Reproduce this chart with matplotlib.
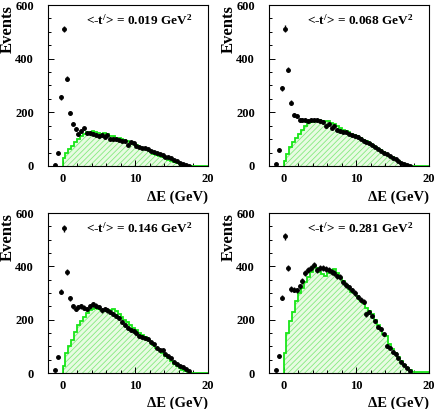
import numpy as np
import matplotlib
matplotlib.use("Agg")
import matplotlib.pyplot as plt
from matplotlib.ticker import MultipleLocator

plt.rcParams['font.family'] = ['Liberation Serif', 'DejaVu Serif']
plt.rcParams['font.weight'] = 'bold'
plt.rcParams['mathtext.fontset'] = 'custom'
plt.rcParams['mathtext.rm'] = 'Liberation Serif:bold'
plt.rcParams['mathtext.it'] = 'Liberation Serif:bold'
plt.rcParams['mathtext.bf'] = 'Liberation Serif:bold'
plt.rcParams['hatch.linewidth'] = 0.6

# ---- data ----
labels = ["<-t$^{/}$> = 0.019 GeV$^{2}$", "<-t$^{/}$> = 0.068 GeV$^{2}$",
          "<-t$^{/}$> = 0.146 GeV$^{2}$", "<-t$^{/}$> = 0.281 GeV$^{2}$"]

data_x = [-1.0, -0.6, -0.2, 0.2, 0.6, 1.0, 1.4, 1.8, 2.2, 2.6, 3.0, 3.4, 3.8, 4.2,
          4.6, 5.0, 5.4, 5.8, 6.2, 6.6, 7.0, 7.4, 7.8, 8.2, 8.6, 9.0, 9.4, 9.8,
          10.2, 10.6, 11.0, 11.4, 11.8, 12.2, 12.6, 13.0, 13.4, 13.8, 14.2, 14.6,
          15.0, 15.4, 15.8, 16.2, 16.6, 17.0, 17.4]

data1 = [5, 50, 256, 510, 325, 197, 158, 138, 118, 130, 140, 122, 122, 120,
         117, 112, 115, 108, 115, 102, 100, 100, 97, 95, 92, 80, 88, 85,
         75, 72, 68, 68, 62, 55, 52, 48, 45, 40, 35, 32, 28, 22, 18, 12, 8, 4, 1]
data2 = [8, 61, 290, 512, 359, 236, 190, 185, 172, 170, 170, 168, 170, 172,
         170, 168, 165, 150, 155, 140, 148, 135, 130, 128, 125, 120, 115, 110,
         108, 102, 95, 90, 85, 78, 70, 63, 57, 50, 44, 37, 31, 25, 19, 13, 8, 4, 1]
data3 = [10, 60, 305, 543, 380, 280, 250, 240, 248, 250, 245, 240, 250, 258,
         252, 248, 235, 240, 235, 228, 222, 215, 205, 190, 180, 170, 160, 158,
         150, 138, 135, 130, 128, 115, 108, 95, 88, 86, 72, 62, 55, 42, 35, 28, 22, 15, 8]
data4 = [10, 62, 283, 512, 393, 315, 312, 310, 325, 345, 375, 385, 395, 405,
         385, 395, 395, 390, 385, 380, 375, 362, 360, 340, 330, 322, 310, 300,
         285, 275, 268, 220, 228, 215, 195, 172, 165, 145, 100, 95, 80, 70, 55, 42, 30, 18, 8]

model_edges = [0.0, 0.4, 0.8, 1.2, 1.6, 2.0, 2.4, 2.8, 3.2, 3.6, 4.0, 4.4, 4.8, 5.2,
               5.6, 6.0, 6.4, 6.8, 7.2, 7.6, 8.0, 8.4, 8.8, 9.2, 9.6, 10.0, 10.4,
               10.8, 11.2, 11.6, 12.0, 12.4, 12.8, 13.2, 13.6, 14.0, 14.4, 14.8,
               15.2, 15.6, 16.0, 16.4, 16.8, 17.2, 17.6, 20.0]

model1 = [30, 48, 62, 75, 88, 100, 110, 118, 125, 128, 130, 126, 124, 120, 122, 118,
          112, 110, 105, 103, 100, 96, 92, 88, 84, 78, 72, 66, 62, 58, 52, 46, 42,
          38, 33, 28, 24, 20, 15, 10, 6, 3, 1, 0, 0]
model2 = [20, 45, 70, 90, 105, 120, 135, 150, 160, 165, 168, 170, 170, 168, 168, 168,
          162, 155, 148, 140, 135, 130, 125, 120, 115, 110, 105, 98, 92, 86, 80, 72,
          65, 58, 52, 45, 38, 32, 25, 18, 12, 7, 3, 1, 0]
model3 = [25, 75, 100, 125, 155, 180, 195, 210, 225, 235, 240, 242, 240, 238, 235, 232,
          238, 240, 232, 222, 210, 200, 190, 180, 170, 160, 150, 142, 135, 125, 115,
          105, 95, 85, 75, 65, 55, 45, 35, 27, 20, 12, 6, 2, 0]
model4 = [75, 150, 195, 230, 270, 300, 320, 340, 360, 380, 400, 395, 380, 370, 365, 375,
          385, 390, 375, 355, 345, 330, 315, 305, 300, 290, 275, 262, 245, 232, 220,
          200, 180, 165, 145, 140, 110, 90, 75, 60, 45, 30, 20, 10, 3]

datas = [data1, data2, data3, data4]
models = [model1, model2, model3, model4]

W, H = 436, 409
fig = plt.figure(figsize=(W / 100, H / 100), dpi=100)

positions = [
    (48, 5, 207.5, 166),
    (269, 5, 429, 166),
    (48, 213, 207.5, 373),
    (269, 213, 429, 373),
]

for i, (l, t, r, b) in enumerate(positions):
    ax = fig.add_axes([l / W, 1 - b / H, (r - l) / W, (b - t) / H])
    ax.set_xlim(-2, 20)
    ax.set_ylim(0, 600)
    m = np.array(models[i], dtype=float)
    ax.stairs(m, model_edges, fill=True, facecolor='#e8fbe2',
              edgecolor='#86ea80', hatch='//////', linewidth=0, zorder=1)
    ax.stairs(m, model_edges, baseline=0, color='#19e619', linewidth=1.3, zorder=2)
    d = np.array(datas[i], dtype=float)
    err = 0.55 * np.sqrt(d)
    ax.errorbar(data_x, d, yerr=err, fmt='o', color='black', ms=2.5,
                elinewidth=1.0, capsize=0, zorder=3)
    ax.xaxis.set_major_locator(MultipleLocator(10))
    ax.xaxis.set_minor_locator(MultipleLocator(2))
    ax.yaxis.set_major_locator(MultipleLocator(200))
    ax.yaxis.set_minor_locator(MultipleLocator(50))
    ax.tick_params(which='both', direction='in', top=False, right=False,
                   labelsize=9, width=0.7)
    ax.tick_params(which='major', length=4.5)
    ax.tick_params(which='minor', length=2.5)
    ax.tick_params(axis='y', pad=10)
    ax.tick_params(axis='x', pad=5)
    for s in ax.spines.values():
        s.set_linewidth(0.8)
    for lab in ax.get_yticklabels() + ax.get_xticklabels():
        lab.set_fontweight('bold')
    ax.text(-0.25, 1.0, "Events", transform=ax.transAxes, rotation=90,
            ha='center', va='top', fontsize=12, fontweight='bold')
    ax.text(1.0, -0.15, "\u0394E (GeV)", transform=ax.transAxes,
            ha='right', va='top', fontsize=10.5, fontweight='bold')
    ax.text(0.57, 0.905, labels[i], transform=ax.transAxes,
            ha='center', va='center', fontsize=9.5, fontweight='bold')

fig.savefig("out.png", dpi=100)
